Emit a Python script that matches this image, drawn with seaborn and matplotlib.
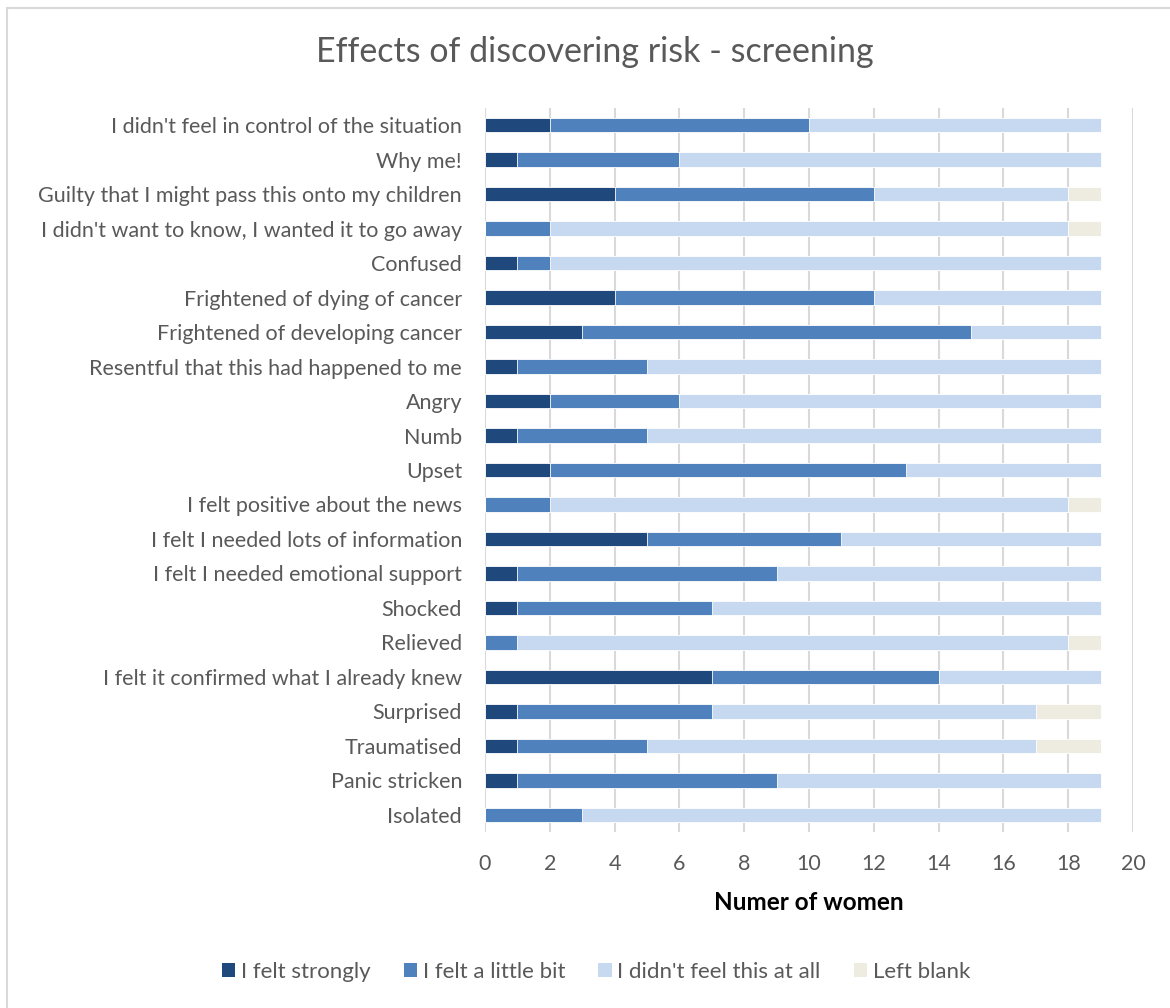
import matplotlib
matplotlib.use("Agg")
import matplotlib.pyplot as plt
import matplotlib.patches as mpatches
import seaborn as sns
import pandas as pd
import numpy as np

categories = [
    "I didn't feel in control of the situation",
    "Why me!",
    "Guilty that I might pass this onto my children",
    "I didn't want to know, I wanted it to go away",
    "Confused",
    "Frightened of dying of cancer",
    "Frightened of developing cancer",
    "Resentful that this had happened to me",
    "Angry",
    "Numb",
    "Upset",
    "I felt positive about the news",
    "I felt I needed lots of information",
    "I felt I needed emotional support",
    "Shocked",
    "Relieved",
    "I felt it confirmed what I already knew",
    "Surprised",
    "Traumatised",
    "Panic stricken",
    "Isolated",
]
felt_strongly = [2, 1, 4, 0, 1, 4, 3, 1, 2, 1, 2, 0, 5, 1, 1, 0, 7, 1, 1, 1, 0]
felt_little = [8, 5, 8, 2, 1, 8, 12, 4, 4, 4, 11, 2, 6, 8, 6, 1, 7, 6, 4, 8, 3]
not_at_all = [9, 13, 6, 16, 17, 7, 4, 14, 13, 14, 6, 16, 8, 10, 12, 17, 5, 10, 12, 10, 16]
left_blank = [0, 0, 1, 1, 0, 0, 0, 0, 0, 0, 0, 1, 0, 0, 0, 1, 0, 2, 2, 0, 0]

series_names = ["I felt strongly", "I felt a little bit", "I didn't feel this at all", "Left blank"]
colors = ["#1F497D", "#4F81BD", "#C6D9F1", "#EEECE1"]
x_ticks = list(range(0, 21, 2))

sns.set_theme(style="white")
plt.rcParams["font.family"] = ["Lato", "DejaVu Sans"]
text_color = "#595959"

fig = plt.figure(figsize=(11.7, 10.08), dpi=100)
ax = fig.add_axes([485 / 1170, 176 / 1008, 648 / 1170, 724 / 1008])

df = pd.DataFrame({
    "category": categories,
    "s1": felt_strongly,
    "s2": felt_little,
    "s3": not_at_all,
    "s4": left_blank,
})
cum = df[["s1", "s2", "s3", "s4"]].cumsum(axis=1)

# stacked bars: draw cumulative totals from the outermost segment inward
for col, color in zip(["s4", "s3", "s2", "s1"], colors[::-1]):
    sns.barplot(data=pd.DataFrame({"category": categories, "v": cum[col]}),
                y="category", x="v", order=categories, orient="h",
                color=color, saturation=1, width=0.42, ax=ax,
                edgecolor="white", linewidth=0.6, zorder=3)

ax.set_xlim(0, 20)
ax.set_ylim(len(categories) - 0.5, -0.5)
ax.set_xticks(x_ticks)
ax.set_xticklabels([str(t) for t in x_ticks])
ax.grid(axis="x", color="#D9D9D9", linewidth=1.5, zorder=0)
ax.grid(axis="y", visible=False)
ax.set_axisbelow(True)
for s in ax.spines.values():
    s.set_visible(False)
ax.tick_params(axis="both", length=0, labelsize=15.5, colors=text_color)
ax.tick_params(axis="y", pad=16.5)
ax.tick_params(axis="x", pad=16)
ax.set_ylabel("")
ax.set_xlabel("Numer of women", fontsize=17.5, fontweight="bold", color="black", labelpad=12)

fig.text(595 / 1170, 1 - 52 / 1008, "Effects of discovering risk - screening",
         ha="center", va="center", fontsize=24.5, color=text_color)

handles = [mpatches.Patch(facecolor=c, edgecolor="none", label=n) for c, n in zip(colors, series_names)]
fig.legend(handles=handles, loc="center", bbox_to_anchor=(596 / 1170, 36 / 1008), ncol=4,
           frameon=False, fontsize=16, labelcolor=text_color, handlelength=0.6,
           handleheight=0.6, handletextpad=0.25, columnspacing=1.5)

fig.patches.append(mpatches.Rectangle((7 / 1170, -0.1), 1.2, 1 - 8 / 1008 + 0.1,
                                      transform=fig.transFigure, fill=False,
                                      edgecolor="#D9D9D9", linewidth=1.5))

fig.savefig("out.png", dpi=100, facecolor="white")
